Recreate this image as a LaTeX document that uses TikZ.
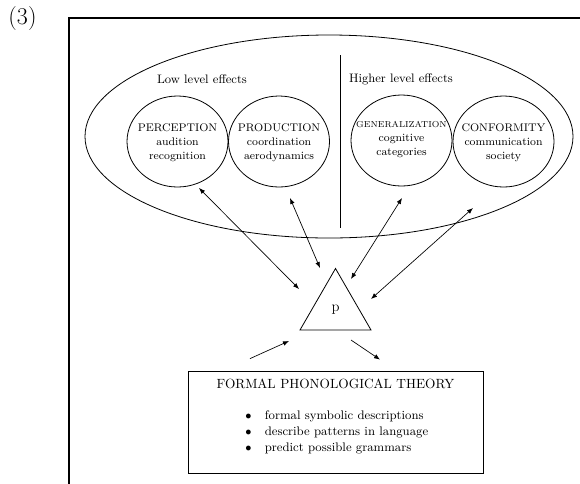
\documentclass[tikz,border=0pt]{standalone}
\usetikzlibrary{shapes.geometric,arrows.meta,calc}
\begin{document}
\begin{tikzpicture}[x=0.75pt,y=-0.75pt,
  thinline/.style={line width=0.6pt},
  effect/.style={draw, thinline, ellipse, minimum width=75.75pt, minimum height=68.25pt, inner sep=0pt},
  effecttext/.style={inner sep=0pt, align=center, font=\fontsize{8.3}{10.5}\selectfont},
  headline/.style={font=\fontsize{9.2}{11}\selectfont},
  link/.style={{Latex[length=4.5pt,width=3.5pt]}-{Latex[length=4.5pt,width=3.5pt]}, line width=0.5pt},
  onelink/.style={-{Latex[length=4.5pt,width=3.5pt]}, line width=0.5pt}]
\useasboundingbox (0,0) rectangle (580,483);
% label
\node (num) at (22.5,18.5) {\fontsize{18}{20}\selectfont (3)};
% frame
\coordinate (fbl) at (69,484);
\coordinate (ftl) at (69,18);
\coordinate (ftr) at (581,18);
\draw[line width=2.2pt] (fbl) -- (ftl) -- (ftr);
% outer ellipse
\node[draw, thinline, ellipse, minimum width=366pt, minimum height=152.25pt, inner sep=0pt] (outer) at (329,136.5) {};
\coordinate (divtop) at (340,55);
\coordinate (divbot) at (340,228);
\draw[thinline] (divtop) -- (divbot);
\node[headline] (low) at (202,79) {Low level effects};
\node[headline] (high) at (401,79) {Higher level effects};
% effect circles
\node[effect] (perc) at (177.5,141.5) {};
\node[effect] (prod) at (279,141.5) {};
\node[effect] (gen) at (401.5,140.5) {};
\node[effect] (conf) at (503.5,141.5) {};
\node[effecttext] (perctext) at ($(perc.center)+(0,1)$) {PERCEPTION\\audition\\recognition};
\node[effecttext] (prodtext) at ($(prod.center)+(0,1)$) {PRODUCTION\\coordination\\aerodynamics};
\node[effecttext] (gentext) at ($(gen.center)+(0,-0.5)$) {{\fontsize{6.5}{8}\selectfont GENERALIZATION}\\cognitive\\categories};
\node[effecttext] (conftext) at ($(conf.center)+(0,1)$) {CONFORMITY\\communication\\society};
% triangle
\node[draw, thinline, regular polygon, regular polygon sides=3, minimum size=61.5pt, inner sep=0pt,
  font=\fontsize{11}{13}\selectfont] (tri) at (335.5,309.5) {p};
% arrows
\coordinate (pA) at ($(perc.center)+(21.5,46.5)$);
\coordinate (pB) at ($(tri.center)+(-36.5,-20.5)$);
\draw[link] (pA) -- (pB);
\coordinate (rA) at ($(prod.center)+(11,56.5)$);
\coordinate (rB) at ($(tri.center)+(-15.5,-41.5)$);
\draw[link] (rA) -- (rB);
\coordinate (gA) at ($(gen.center)+(0.5,57.5)$);
\coordinate (gB) at ($(tri.center)+(15.5,-30.5)$);
\draw[link] (gA) -- (gB);
\coordinate (cA) at ($(conf.center)+(-30.5,66.5)$);
\coordinate (cB) at ($(tri.center)+(35.5,-10.5)$);
\draw[link] (cA) -- (cB);
% box
\node[draw, thinline, minimum width=221.25pt, minimum height=76.5pt, inner sep=0pt] (fpt) at (335.5,422) {};
\coordinate (inA) at ($(fpt.north)+(-85.5,-12)$);
\coordinate (inB) at ($(tri.center)+(-46.5,31.5)$);
\draw[onelink] (inA) -- (inB);
\coordinate (outA) at ($(tri.center)+(15.5,30.5)$);
\coordinate (outB) at ($(fpt.north)+(44.5,-11)$);
\draw[onelink] (outA) -- (outB);
\node[font=\fontsize{10}{12}\selectfont] (fpttitle) at (335.5,384) {FORMAL PHONOLOGICAL THEORY};
\node[anchor=west, inner sep=0pt, font=\fontsize{9.3}{12}\selectfont] (fptitems) at (245,432)
  {\begin{tabular}{@{}l@{\hspace{10pt}}l@{}}
   $\bullet$ & formal symbolic descriptions\\
   $\bullet$ & describe patterns in language\\
   $\bullet$ & predict possible grammars
   \end{tabular}};
\end{tikzpicture}
\end{document}
